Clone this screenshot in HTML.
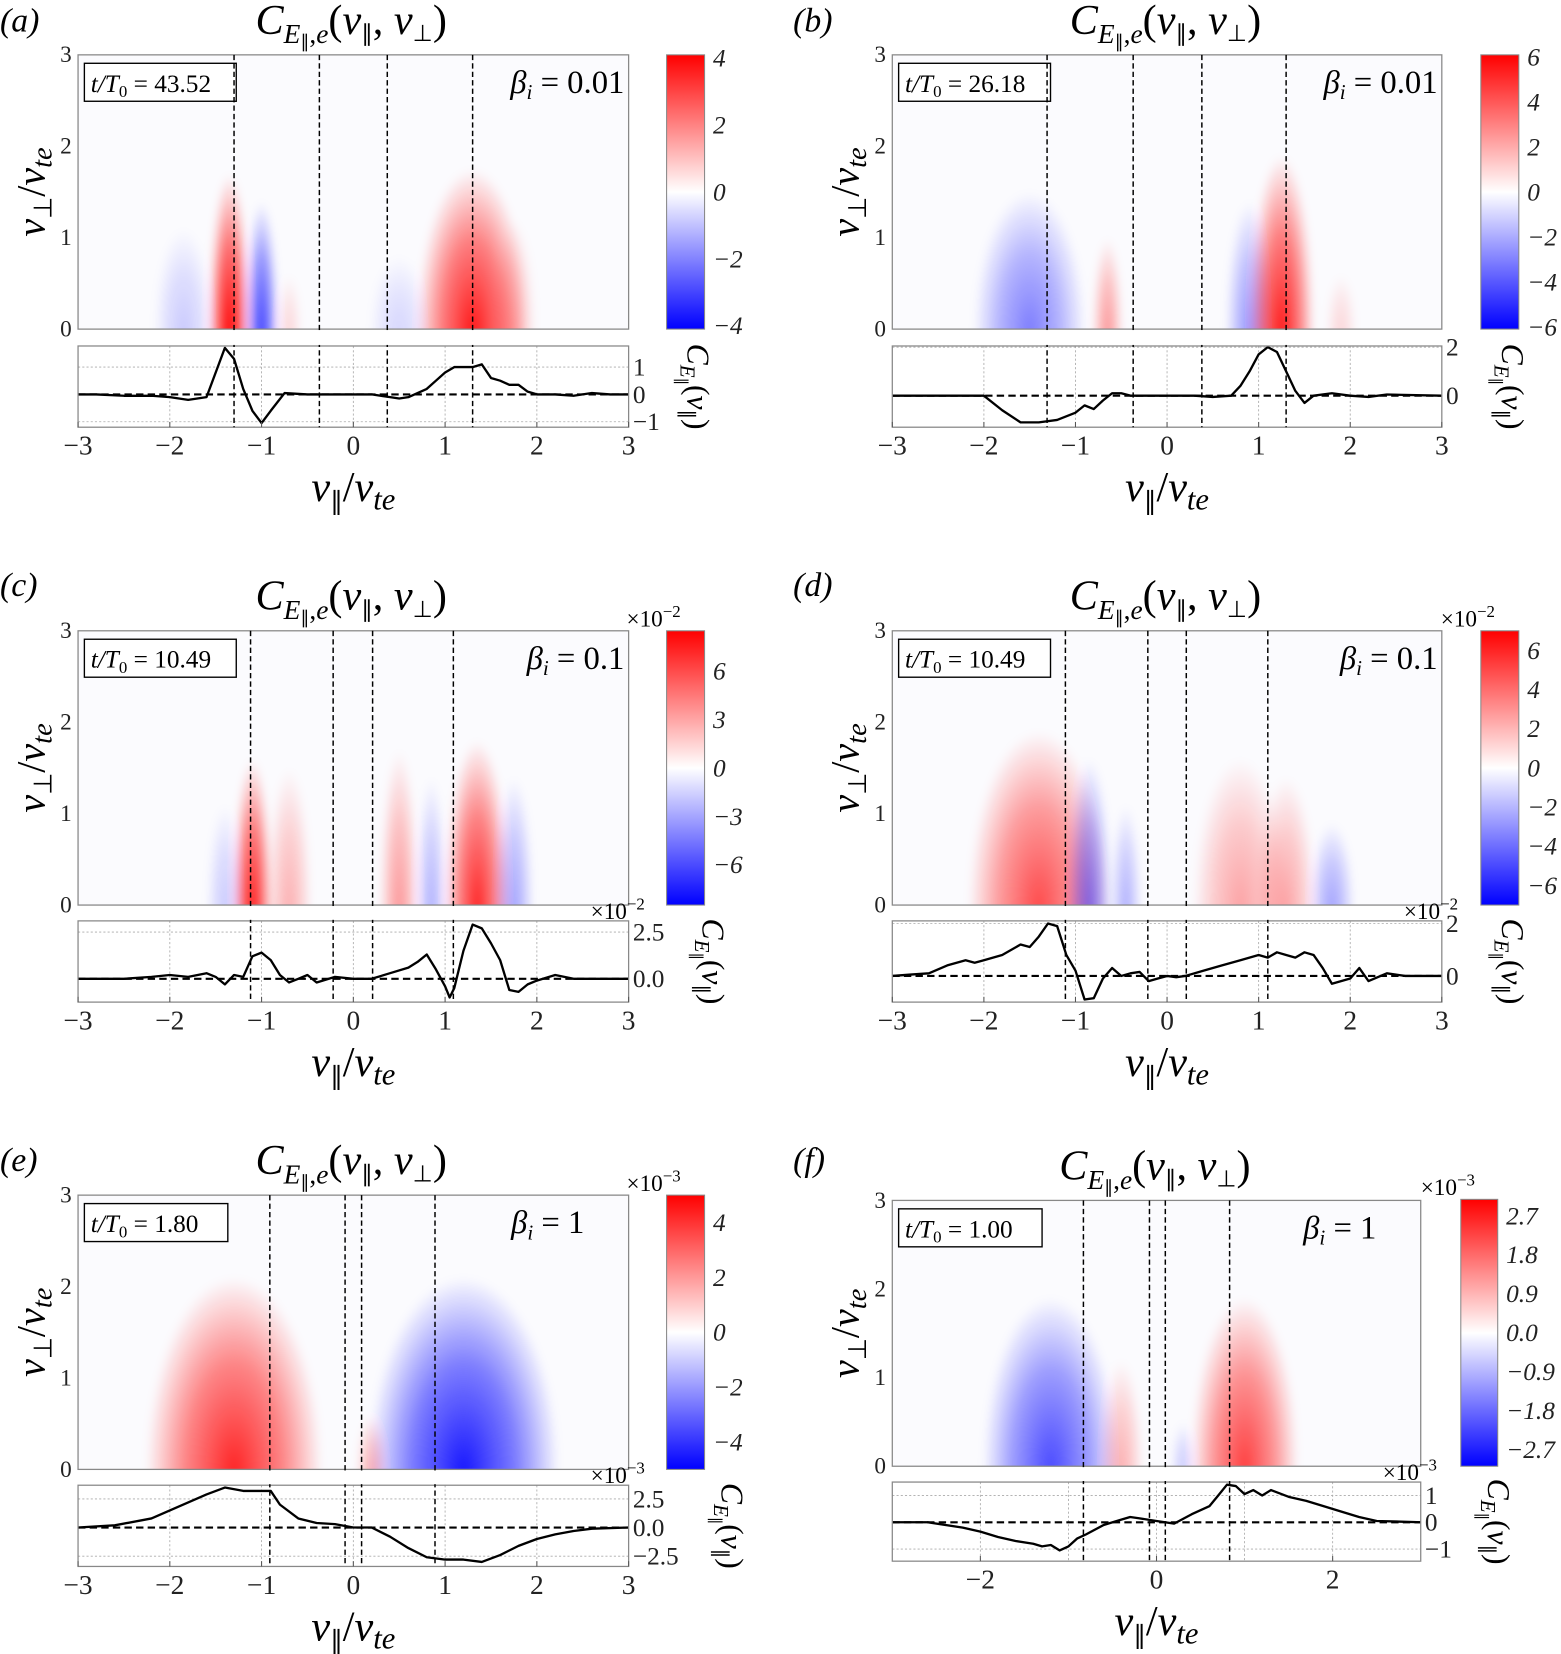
<!DOCTYPE html>
<html><head><meta charset="utf-8"><style>
html,body{margin:0;padding:0;background:#fff;}
svg{display:block;font-family:"Liberation Serif",serif;}
</style></head><body>
<svg id="fig" xmlns="http://www.w3.org/2000/svg" width="1561" height="1654" viewBox="0 0 1480 1568" preserveAspectRatio="none">
<defs>
<linearGradient id="cbgrad" x1="0" y1="0" x2="0" y2="1">
<stop offset="0" stop-color="#ff0000"/><stop offset="0.5" stop-color="#ffffff"/><stop offset="1" stop-color="#0000ff"/>
</linearGradient>
<radialGradient id="gred"><stop offset="0" stop-color="#ff0000" stop-opacity="1"/><stop offset="0.55" stop-color="#ff0000" stop-opacity="0.55"/><stop offset="1" stop-color="#ff0000" stop-opacity="0"/></radialGradient>
<radialGradient id="gblue"><stop offset="0" stop-color="#0000ff" stop-opacity="1"/><stop offset="0.55" stop-color="#0000ff" stop-opacity="0.55"/><stop offset="1" stop-color="#0000ff" stop-opacity="0"/></radialGradient>
<filter id="blur" x="-20%" y="-20%" width="140%" height="140%"><feGaussianBlur stdDeviation="4"/></filter>
</defs>
</svg>
<script>
// ---- line-plot data (v_parallel samples and C_E(v_parallel) values) ----
const vA=[-3,-2.8,-2.5,-2.2,-2,-1.8,-1.6,-1.4,-1.3,-1.2,-1.1,-1.0,-0.9,-0.75,-0.5,0,0.2,0.4,0.5,0.6,0.7,0.8,0.9,1.0,1.1,1.2,1.3,1.4,1.5,1.6,1.7,1.8,1.9,2.0,2.2,2.4,2.6,2.8,3];
const cA=[0,0,-0.05,-0.05,-0.1,-0.2,-0.1,1.7,1.3,0.2,-0.6,-1.05,-0.6,0.05,0,0,0,-0.1,-0.15,-0.1,0.05,0.2,0.5,0.8,1.0,1.0,1.0,1.1,0.6,0.5,0.35,0.35,0.1,0,0,-0.05,0.05,0,0];
const vB=[-3,-2.5,-2.0,-1.8,-1.6,-1.4,-1.2,-1.0,-0.9,-0.8,-0.7,-0.6,-0.5,-0.4,0,0.3,0.5,0.7,0.8,0.9,1.0,1.1,1.2,1.3,1.4,1.5,1.6,1.8,2.0,2.2,2.4,3];
const cB=[0,0,0,-0.6,-1.1,-1.1,-1.0,-0.7,-0.4,-0.55,-0.2,0.1,0.1,0,0,0,-0.05,0,0.4,1.0,1.7,2.0,1.8,1.0,0.2,-0.3,0,0.1,0,-0.05,0.05,0];
const vC=[-3,-2.5,-2.2,-2,-1.8,-1.6,-1.5,-1.4,-1.3,-1.2,-1.1,-1.0,-0.9,-0.8,-0.7,-0.6,-0.5,-0.4,-0.2,0,0.2,0.4,0.6,0.7,0.8,0.9,1.0,1.05,1.1,1.2,1.3,1.4,1.5,1.6,1.7,1.8,1.9,2.0,2.2,2.4,3];
const cC=[0,0,0.1,0.2,0.1,0.3,0.1,-0.3,0.2,0.1,1.2,1.4,1.0,0.2,-0.2,0,0.2,-0.2,0.1,0,0,0.3,0.6,0.9,1.3,0.5,-0.4,-1.0,-0.5,1.5,2.9,2.7,1.9,1.0,-0.6,-0.7,-0.3,-0.1,0.2,0,0];
const vD=[-3,-2.8,-2.6,-2.4,-2.2,-2.1,-2.0,-1.8,-1.6,-1.5,-1.4,-1.3,-1.2,-1.1,-1.0,-0.9,-0.8,-0.7,-0.6,-0.5,-0.4,-0.3,-0.2,-0.1,0,0.1,0.2,0.4,0.6,0.8,1.0,1.1,1.2,1.3,1.4,1.5,1.6,1.7,1.8,2.0,2.1,2.2,2.4,2.6,3];
const cD=[0,0.05,0.1,0.4,0.6,0.5,0.6,0.8,1.2,1.1,1.5,2.0,1.9,0.8,0.2,-0.9,-0.85,-0.1,0.3,0,0.1,0.15,-0.2,-0.1,0,-0.05,0,0.2,0.4,0.6,0.8,0.7,0.9,0.8,0.7,0.9,0.8,0.3,-0.3,-0.1,0.3,-0.2,0.1,0,0];
const vE=[-3,-2.6,-2.2,-2.0,-1.8,-1.6,-1.4,-1.2,-1.0,-0.9,-0.8,-0.6,-0.4,-0.2,0,0.2,0.4,0.6,0.8,1.0,1.2,1.4,1.6,1.8,2.0,2.2,2.4,2.6,3];
const cE=[0,0.2,0.8,1.5,2.2,2.9,3.5,3.2,3.2,3.2,2.0,0.8,0.4,0.3,0,0,-0.8,-1.8,-2.6,-2.8,-2.8,-3.0,-2.4,-1.6,-1.0,-0.6,-0.3,-0.1,0];
const vF=[-3,-2.6,-2.2,-2,-1.8,-1.6,-1.4,-1.3,-1.2,-1.1,-1.0,-0.9,-0.8,-0.6,-0.4,-0.3,-0.2,0,0.2,0.4,0.6,0.7,0.8,0.9,1.0,1.1,1.2,1.3,1.5,1.7,1.9,2.1,2.3,2.5,3];
const cF=[0,0,-0.2,-0.35,-0.55,-0.7,-0.8,-0.9,-0.85,-1.05,-0.9,-0.6,-0.45,-0.1,0.1,0.2,0.15,0.05,-0.05,0.3,0.6,1.0,1.4,1.35,1.05,1.2,1.0,1.2,0.95,0.8,0.6,0.4,0.2,0.05,0];
// ---- heatmap features: [v_par center, half-width, v_perp extent, amplitude(-1..1)] ----
const blobsA=[[-1.35,0.14,1.7,1],[-1.0,0.11,1.4,-0.75],[-1.85,0.2,1.1,-0.2],[1.3,0.38,1.75,0.9],[1.75,0.15,1.2,0.2],[0.5,0.2,0.8,-0.15],[-0.7,0.08,0.6,0.15]];
const blobsB=[[-1.5,0.38,1.5,-0.5],[-0.65,0.1,1.0,0.4],[0.9,0.16,1.4,-0.4],[1.25,0.22,1.9,0.9],[1.9,0.1,0.6,0.15]];
const blobsC=[[-1.1,0.13,1.6,0.9],[-0.7,0.15,1.5,0.3],[-1.4,0.12,1.1,-0.2],[0.5,0.13,1.7,0.4],[1.35,0.22,1.8,0.85],[1.75,0.13,1.4,-0.35],[0.85,0.1,1.4,-0.3]];
const blobsD=[[-1.4,0.48,1.9,0.7],[-0.85,0.15,1.6,-0.5],[-0.45,0.1,1.1,-0.3],[0.8,0.32,1.6,0.35],[1.3,0.2,1.4,0.35],[1.8,0.15,0.9,-0.35]];
const blobsE=[[-1.3,0.6,2.1,0.85],[1.2,0.65,2.1,-0.9],[0.2,0.1,0.6,0.3]];
const blobsF=[[-1.2,0.48,1.9,-0.7],[-0.4,0.15,1.2,0.3],[1.0,0.38,1.9,0.75],[0.3,0.08,0.5,-0.2]];
// ---- tick labels ----
const cbTicksA=[4,2,0,-2,-4], cbTicksB=[6,4,2,0,-2,-4,-6], cbTicksC=[6,3,0,-3,-6], cbTicksD=[6,4,2,0,-2,-4,-6], cbTicksE=[4,2,0,-2,-4], cbTicksF=["2.7","1.8","0.9","0.0","−0.9","−1.8","−2.7"];
const lnTicksA=["1","0","−1"], lnTicksB=["2","0"], lnTicksC=["2.5","0.0"], lnTicksD=["2","0"], lnTicksE=["2.5","0.0","−2.5"], lnTicksF=["1","0","−1"];

const NS="http://www.w3.org/2000/svg";
const svg=document.getElementById('fig');
function mk(tag,attrs,parent){const e=document.createElementNS(NS,tag);for(const k in attrs)e.setAttribute(k,attrs[k]);(parent||svg).appendChild(e);return e;}
function num(s){return typeof s==='number'?s:parseFloat(String(s).replace('−','-'));}
function fmt(s){return typeof s==='number'?(s<0?'−'+(-s):String(s)):s;}

const panels=[
 {id:'a',lab:'(a)',labx:0,laby:30,tx:333,ty:32,px:74,py:52,pw:522,ph:260,ly:328,lh:77,cbx:632,cby:52,cbw:36,cbh:260,cbMax:4.1,cbT:cbTicksA,time:'43.52',beta:'0.01',v:vA,c:cA,ylim:[-1.2,1.77],lt:lnTicksA,vl:[-1.3,-0.37,0.37,1.3],xt:[-3,-2,-1,0,1,2,3],blobs:blobsA,exp:null,yo:20},
 {id:'b',lab:'(b)',labx:752,laby:30,tx:1105,ty:32,px:846,py:52,pw:521,ph:260,ly:328,lh:77,cbx:1404,cby:52,cbw:36,cbh:260,cbMax:6.1,cbT:cbTicksB,time:'26.18',beta:'0.01',v:vB,c:cB,ylim:[-1.3,2.05],lt:lnTicksB,vl:[-1.31,-0.37,0.38,1.3],xt:[-3,-2,-1,0,1,2,3],blobs:blobsB,exp:null,yo:20},
 {id:'c',lab:'(c)',labx:0,laby:565,tx:333,ty:578,px:74,py:598,pw:522,ph:260,ly:873,lh:77,cbx:632,cby:598,cbw:36,cbh:260,cbMax:8.5,cbT:cbTicksC,time:'10.49',beta:'0.1',v:vC,c:cC,ylim:[-1.25,3.1],lt:lnTicksC,vl:[-1.12,-0.22,0.21,1.09],xt:[-3,-2,-1,0,1,2,3],blobs:blobsC,exp:'−2',yo:34},
 {id:'d',lab:'(d)',labx:752,laby:565,tx:1105,ty:578,px:846,py:598,pw:521,ph:260,ly:873,lh:77,cbx:1404,cby:598,cbw:36,cbh:260,cbMax:7.0,cbT:cbTicksD,time:'10.49',beta:'0.1',v:vD,c:cD,ylim:[-1.0,2.1],lt:lnTicksD,vl:[-1.11,-0.21,0.21,1.1],xt:[-3,-2,-1,0,1,2,3],blobs:blobsD,exp:'−2',yo:20},
 {id:'e',lab:'(e)',labx:0,laby:1110,tx:333,ty:1113,px:74,py:1133,pw:522,ph:260,ly:1408,lh:77,cbx:632,cby:1133,cbw:36,cbh:260,cbMax:5.0,cbT:cbTicksE,time:'1.80',beta:'1',v:vE,c:cE,ylim:[-3.4,3.7],lt:lnTicksE,vl:[-0.91,-0.09,0.09,0.89],xt:[-3,-2,-1,0,1,2,3],blobs:blobsE,exp:'−3',yo:52},
 {id:'f',lab:'(f)',labx:752,laby:1110,tx:1095,ty:1118,px:846,py:1138,pw:501,ph:252,ly:1405,lh:75,cbx:1385,cby:1137,cbw:35,cbh:253,cbMax:3.08,cbT:cbTicksF,time:'1.00',beta:'1',v:vF,c:cF,ylim:[-1.45,1.5],lt:lnTicksF,vl:[-0.83,-0.08,0.1,0.83],xt:[-2,0,2],blobs:blobsF,exp:'−3',yo:26}
];

panels.forEach(P=>{
 const g=mk('g',{});
 
 
 const X=v=>P.px+(v+3)/6*P.pw;
 const Yh=u=>P.py+P.ph-u/3*P.ph;
 const Yl=c=>P.ly+P.lh-(c-P.ylim[0])/(P.ylim[1]-P.ylim[0])*P.lh;
 const lb=mk('text',{x:P.labx,y:P.laby,'font-size':32,'font-style':'italic'},g);lb.textContent=P.lab;
 
 
 const t=mk('text',{x:P.tx,y:P.ty,'font-size':40,'text-anchor':'middle'},g);
 
 
 t.innerHTML='<tspan font-style="italic">C</tspan><tspan font-size="26" dy="9" font-style="italic">E</tspan><tspan font-size="17" dy="4">∥</tspan><tspan font-size="26" dy="-4">,</tspan><tspan font-size="26" font-style="italic">e</tspan><tspan dy="-9">(</tspan><tspan font-style="italic">v</tspan><tspan font-size="22" dy="7">∥</tspan><tspan dy="-7">, </tspan><tspan font-style="italic">v</tspan><tspan font-size="22" dy="7">⊥</tspan><tspan dy="-7">)</tspan>';
 const clipId='clip'+P.id;
 const cp=mk('clipPath',{id:clipId},g);mk('rect',{x:P.px,y:P.py,width:P.pw,height:P.ph},cp);
 const hm=mk('g',{'clip-path':'url(#'+clipId+')'},g);
 
 
 mk('rect',{x:P.px,y:P.py,width:P.pw,height:P.ph,fill:'#fbfbfe'},hm);
 const bg=mk('g',{filter:'url(#blur)'},hm);
 P.blobs.forEach(b=>{
  const cx=X(b[0]),rx=b[1]/6*P.pw*1.6,ry=b[2]/3*P.ph;
  const el=mk('ellipse',{cx:cx,cy:Yh(0),rx:rx,ry:ry,fill:b[3]>0?'url(#gred)':'url(#gblue)','fill-opacity':Math.abs(b[3])},bg);
  
  
 });
 mk('rect',{x:P.px,y:P.py,width:P.pw,height:P.ph,fill:'none',stroke:'#888','stroke-width':1.2},g);
 [0,1,2,3].forEach(u=>{const tt=mk('text',{x:P.px-6,y:Yh(u)+7,'font-size':22,'text-anchor':'end',fill:'#222'},g);tt.textContent=u;
  
  });
 const yl=mk('text',{x:0,y:0,'font-size':38,'text-anchor':'middle',transform:'translate('+(P.px-32)+','+(P.py+P.ph/2)+') rotate(-90)'},g);
 
 
 yl.innerHTML='<tspan font-style="italic">v</tspan><tspan font-size="24" dy="7">⊥</tspan><tspan dy="-7">/</tspan><tspan font-style="italic">v</tspan><tspan font-size="27" font-style="italic" dy="7">te</tspan>';
 const bx=P.px+6, by=P.py+8;
 const box=mk('rect',{x:bx,y:by,width:P.time.length>4?144:136,height:36,fill:'#fff',stroke:'#000','stroke-width':1.3},g);
 
 
 const tm=mk('text',{x:bx+6,y:by+27,'font-size':24},g);
 
 
 tm.innerHTML='<tspan font-style="italic">t/T</tspan><tspan font-size="16" dy="5">0</tspan><tspan dy="-5"> = '+P.time+'</tspan>';
 const bt=mk('text',{x:P.px+P.pw-(P.beta==='1'?42:4),y:P.py+36,'font-size':31,'text-anchor':'end'},g);
 
 
 bt.innerHTML='<tspan font-style="italic">β</tspan><tspan font-size="20" font-style="italic" dy="6">i</tspan><tspan dy="-6"> = '+P.beta+'</tspan>';
 const cb=mk('rect',{x:P.cbx,y:P.cby,width:P.cbw,height:P.cbh,fill:'url(#cbgrad)',stroke:'#888','stroke-width':1},g);
 
 
 P.cbT.forEach(v=>{const y=P.cby+P.cbh/2-num(v)/P.cbMax*P.cbh/2;
  const tt=mk('text',{x:P.cbx+P.cbw+8,y:y+8,'font-size':24,'font-style':'italic',fill:'#222'},g);tt.textContent=fmt(v);
  
  });
 const lp=mk('g',{},g);
 
 
 for(let k=-2;k<=2;k++){mk('line',{x1:X(k),x2:X(k),y1:P.ly,y2:P.ly+P.lh,stroke:'#aaa','stroke-width':0.8,'stroke-dasharray':'2,2'},lp);}
 P.lt.forEach(s=>{const v=num(s),y=Yl(v);
  if(v!==0)mk('line',{x1:P.px,x2:P.px+P.pw,y1:y,y2:y,stroke:'#aaa','stroke-width':0.8,'stroke-dasharray':'2,2'},lp);
  const tt=mk('text',{x:P.px+P.pw+4,y:y+8,'font-size':24,fill:'#222'},g);tt.textContent=s;
  
  });
 mk('line',{x1:P.px,x2:P.px+P.pw,y1:Yl(0),y2:Yl(0),stroke:'#000','stroke-width':2,'stroke-dasharray':'7,4'},lp);
 const pts=P.v.map((v,i)=>X(v).toFixed(1)+','+Yl(P.c[i]).toFixed(1)).join(' ');
 const pl=mk('polyline',{points:pts,fill:'none',stroke:'#000','stroke-width':2.2,'stroke-linejoin':'round'},lp);
 
 
 mk('rect',{x:P.px,y:P.ly,width:P.pw,height:P.lh,fill:'none',stroke:'#888','stroke-width':1.2},lp);
 P.vl.forEach(v=>{const l=mk('line',{x1:X(v),x2:X(v),y1:P.py,y2:P.ly+P.lh,stroke:'#000','stroke-width':1.4,'stroke-dasharray':'5,3'},g);
  
  });
 mk('rect',{x:P.px-1,y:P.py+P.ph+1,width:P.pw+2,height:P.ly-P.py-P.ph-2,fill:'#fff'},g);
 if(P.exp){const ex=mk('text',{x:P.cbx-38,y:P.cby-4,'font-size':22},g);ex.innerHTML='×10<tspan font-size="16" dy="-9">'+P.exp+'</tspan>';
  
  
  const ex2=mk('text',{x:P.px+P.pw-36,y:P.ly-2,'font-size':22},g);ex2.innerHTML='×10<tspan font-size="16" dy="-9">'+P.exp+'</tspan>';
  
  }
 P.xt.forEach(k=>{const tt=mk('text',{x:X(k),y:P.ly+P.lh+26,'font-size':26,'text-anchor':'middle',fill:'#222'},g);tt.textContent=k<0?'−'+(-k):k;
  
  
  mk('line',{x1:X(k),x2:X(k),y1:P.ly+P.lh,y2:P.ly+P.lh-5,stroke:'#555'},g);});
 const xl=mk('text',{x:P.px+P.pw/2,y:P.ly+P.lh+70,'font-size':40,'text-anchor':'middle'},g);
 
 
 xl.innerHTML='<tspan font-style="italic">v</tspan><tspan font-size="24" dy="8">∥</tspan><tspan dy="-8">/</tspan><tspan font-style="italic">v</tspan><tspan font-size="29" font-style="italic" dy="8">te</tspan>';
 const cl=mk('text',{x:0,y:0,'font-size':30,'text-anchor':'middle',transform:'translate('+(P.cbx+P.yo)+','+(P.ly+P.lh/2)+') rotate(90)'},g);
 
 
 cl.innerHTML='<tspan font-style="italic">C</tspan><tspan font-size="20" font-style="italic" dy="7">E</tspan><tspan font-size="14" dy="3">∥</tspan><tspan dy="-10">(</tspan><tspan font-style="italic">v</tspan><tspan font-size="18" dy="6">∥</tspan><tspan dy="-6">)</tspan>';
});
</script>
</body></html>
